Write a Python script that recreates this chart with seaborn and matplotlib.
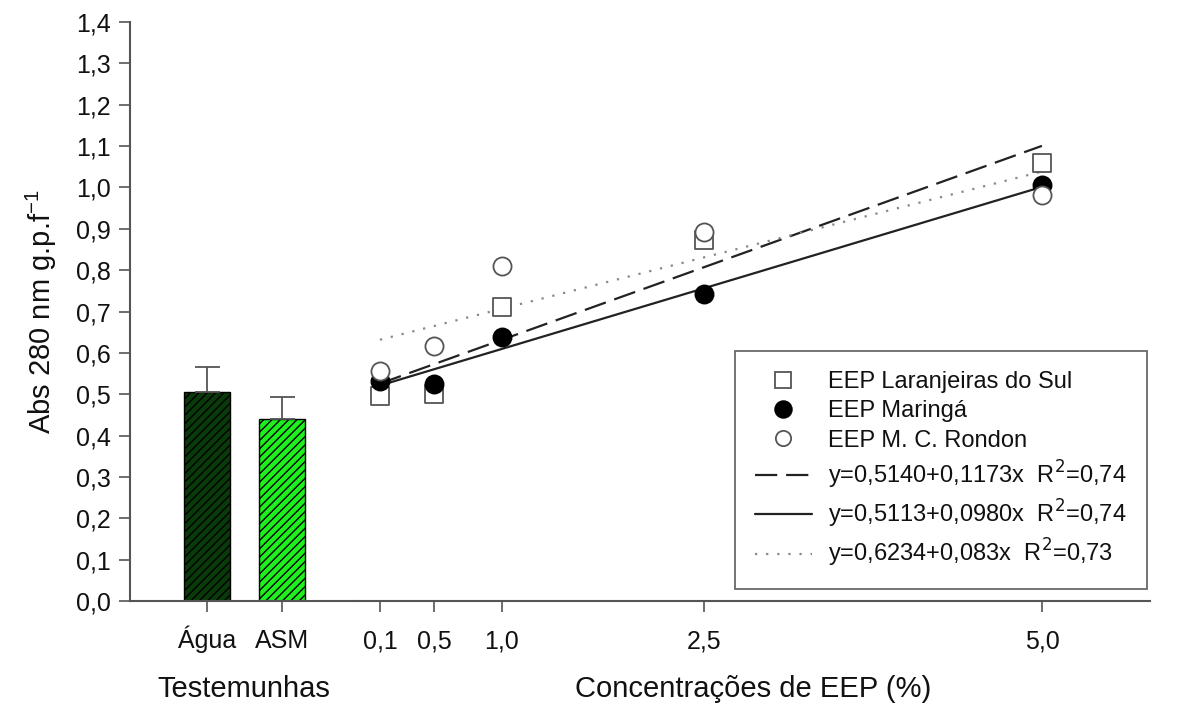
import numpy as np
import pandas as pd
import matplotlib
matplotlib.use("Agg")
import matplotlib.pyplot as plt
import seaborn as sns
from matplotlib.lines import Line2D

sns.set_theme(style="white")
plt.rcParams['font.family'] = ['Liberation Sans', 'DejaVu Sans']
plt.rcParams['hatch.linewidth'] = 1.0
plt.rcParams['text.color'] = '#111111'
plt.rcParams['xtick.color'] = '#111111'
plt.rcParams['ytick.color'] = '#111111'
plt.rcParams['axes.labelcolor'] = '#111111'

# ---- data ----
control_labels = ["Água", "ASM"]
control_values = [0.505, 0.440]
control_errors = [0.062, 0.053]

conc = [0.1, 0.5, 1.0, 2.5, 5.0]
conc_labels = ["0,1", "0,5", "1,0", "2,5", "5,0"]
laranjeiras = [0.496, 0.500, 0.710, 0.873, 1.060]
maringa = [0.532, 0.524, 0.638, 0.742, 1.005]
rondon = [0.556, 0.617, 0.810, 0.892, 0.982]

series_names = ["EEP Laranjeiras do Sul", "EEP Maringá", "EEP M. C. Rondon"]
fit_intercepts = [0.5140, 0.5113, 0.6234]
fit_slopes = [0.1173, 0.0980, 0.083]
fit_labels = ["y=0,5140+0,1173x  R$^2$=0,74",
              "y=0,5113+0,0980x  R$^2$=0,74",
              "y=0,6234+0,083x  R$^2$=0,73"]

yticks = np.round(np.arange(0, 1.41, 0.1), 1)
ytick_labels = [f"{v:.1f}".replace(".", ",") for v in yticks]

# ---- figure ----
fig = plt.figure(figsize=(11.78, 7.04), dpi=100)
W, H = 1178, 704
y0, y1 = 601, 22
ax1 = fig.add_axes([130 / W, (H - y0) / H, (358 - 130) / W, (y0 - y1) / H])
ax2 = fig.add_axes([357 / W, (H - y0) / H, (1150 - 357) / W, (y0 - y1) / H])

spine_c = "#555555"
fs = 18
xpad = 26

# bars
df_bar = pd.DataFrame({"cat": control_labels, "val": control_values})
sns.barplot(data=df_bar, x="cat", y="val", ax=ax1, width=0.61,
            palette=["#0a3a0a", "#1ef01e"], hue="cat", legend=False,
            saturation=1, edgecolor="black", linewidth=1.0)
for p in ax1.patches:
    p.set_hatch("////")
ax1.errorbar([0, 1], control_values, yerr=[[0, 0], control_errors], fmt="none",
             ecolor="#555555", elinewidth=1.3, capsize=9, capthick=1.3)
ax1.set_xlim(-1.03, 2.01)
ax1.set_ylim(0, 1.4)
ax1.set_yticks(yticks)
ax1.set_yticklabels(ytick_labels, fontsize=fs)
ax1.set_xticks([0, 1])
ax1.set_xticklabels(control_labels, fontsize=fs, va="baseline")
ax1.set_xlabel("Testemunhas", fontsize=21, labelpad=16)
ax1.set_ylabel(r"Abs 280 nm g.p.f$^{\mathregular{-1}}$", fontsize=21, labelpad=12)
for s in ["top", "right"]:
    ax1.spines[s].set_visible(False)
for s in ["left", "bottom"]:
    ax1.spines[s].set_color(spine_c)
    ax1.spines[s].set_linewidth(1.5)
ax1.tick_params(axis="both", direction="out", length=8, width=1.2, color=spine_c,
                left=True, bottom=True)
ax1.tick_params(axis="y", pad=6)
ax1.tick_params(axis="x", pad=xpad)

# scatter + fits
df = pd.DataFrame({"conc": conc * 3,
                   "val": laranjeiras + maringa + rondon,
                   "serie": np.repeat(series_names, len(conc))})
styles = [dict(marker="s", facecolor="white", edgecolor="#555555"),
          dict(marker="o", facecolor="black", edgecolor="black"),
          dict(marker="o", facecolor="white", edgecolor="#555555")]
for name, st in zip(series_names, styles):
    sub = df[df["serie"] == name]
    sns.scatterplot(data=sub, x="conc", y="val", ax=ax2, marker=st["marker"],
                    color=st["facecolor"], edgecolor=st["edgecolor"],
                    linewidth=1.3, s=170, zorder=3)

xfit = np.array([conc[0], conc[-1]])
line_styles = [dict(ls=(0, (10, 4)), color="#222222", lw=1.6),
               dict(ls="-", color="#222222", lw=1.6),
               dict(ls=(0, (1, 4)), color="#888888", lw=1.6)]
for a, b, st in zip(fit_intercepts, fit_slopes, line_styles):
    sns.lineplot(x=xfit, y=a + b * xfit, ax=ax2, color=st["color"],
                 linestyle=st["ls"], linewidth=st["lw"], zorder=2)

ax2.set_xlim(-0.07, 5.8)
ax2.set_ylim(0, 1.4)
ax2.set_xticks(conc)
ax2.set_xticklabels(conc_labels, fontsize=fs, va="baseline")
ax2.set_yticks([])
ax2.set_ylabel("")
ax2.set_xlabel("Concentrações de EEP (%)", fontsize=21, labelpad=16)
ax2.patch.set_alpha(0)
for s in ["top", "right", "left"]:
    ax2.spines[s].set_visible(False)
ax2.spines["bottom"].set_color(spine_c)
ax2.spines["bottom"].set_linewidth(1.5)
ax2.tick_params(axis="x", direction="out", length=8, width=1.2, color=spine_c,
                bottom=True, pad=xpad)

handles = [
    Line2D([], [], ls="none", marker="s", mfc="white", mec="#555555", ms=11, mew=1.3),
    Line2D([], [], ls="none", marker="o", mfc="black", mec="black", ms=12, mew=1.3),
    Line2D([], [], ls="none", marker="o", mfc="white", mec="#555555", ms=11, mew=1.3),
]
for st in line_styles:
    handles.append(Line2D([], [], color=st["color"], ls=st["ls"], lw=st["lw"]))
labels = series_names + fit_labels
leg = ax2.legend(handles, labels, loc="lower right", bbox_to_anchor=(0.996, 0.02),
                 borderaxespad=0, fontsize=17, frameon=True, fancybox=False,
                 handlelength=2.4, borderpad=0.85, labelspacing=0.3,
                 handletextpad=0.7)
leg.get_frame().set_edgecolor("#444444")
leg.get_frame().set_linewidth(1.3)

fig.savefig("out.png", dpi=100)
